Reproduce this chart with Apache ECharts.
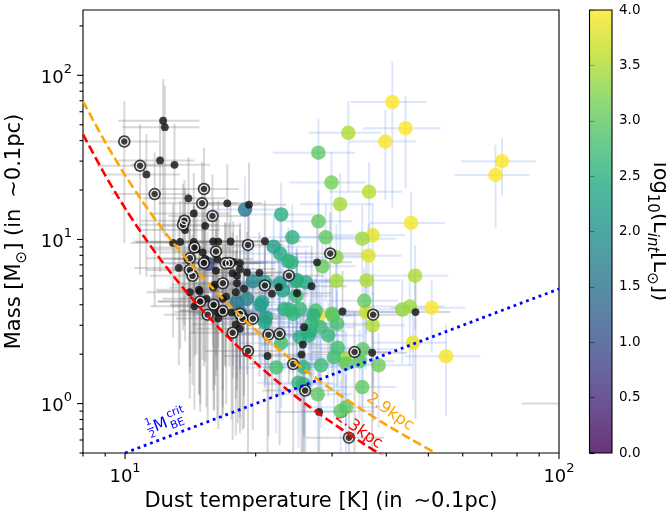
<!DOCTYPE html>
<html><head><meta charset="utf-8">
<script src="https://cdn.jsdelivr.net/npm/echarts@6/dist/echarts.min.js"></script>
<style>html,body{margin:0;padding:0;background:#fff}#c{width:666px;height:521px}</style>
</head><body><div id="c"></div>
<script>
const FONT = 'DejaVu Sans';

// ---- data ----
// colored cores: [Tdust, Mass, dT, dM, log10(Lint)]
const coloredCores = [
 [41.3,68.7,8.2,53,4.0],[44.3,47.6,9,27,4.0],[39.8,39.5,7,22,3.95],[73.9,30.0,14.5,11.5,4.0],[71.4,24.7,14,13,4.0],
 [45.6,12.6,9,7,3.95],[37.2,10.6,7,6,3.85],[36.4,7.96,7,4.5,3.8],[50.9,3.84,10,1.8,4.0],[54.9,1.94,11,1.1,3.95],
 [46.1,2.35,9,1.3,3.85],[28.0,3.44,5.5,2.0,3.9],[35.9,3.61,7,2.0,3.7],
 [32.7,44.6,6.2,25,3.5],[36.5,19.5,7,10,3.55],[31.3,16.4,6,9,3.45],[35.2,10.1,7,6,3.4],[30.7,7.8,6,4.5,3.3],
 [30.7,5.6,6,3,3.45],[36.0,5.63,7,3,3.5],[46.6,6.02,9,3.2,3.5],[43.5,3.74,8,2.0,3.35],[45.3,3.9,9,2.2,3.4],
 [37.2,3.0,7,1.7,3.5],[32.0,1.87,6,1.0,3.45],
 [27.9,33.8,6,21,3.0],[29.9,22.2,6,12,3.15],[27.9,12.9,5.5,7,3.0],[29.0,10.3,6,6,3.0],[28.5,6.86,5.5,4,3.05],
 [35.6,4.23,7,2.4,3.05],[30.1,3.44,6,2,3.0],[30.8,3.07,6,1.8,2.85],[35.3,2.14,7,1.2,3.0],[38.4,1.71,7.5,1.0,3.1],
 [34.7,1.81,7,1.0,2.95],[32.3,1.75,6.5,1.0,3.0],[35.2,1.26,7,0.7,3.0],[30.9,2.19,6,1.2,2.8],[30.3,1.92,6,1.1,2.8],
 [27.8,1.14,5.5,0.65,3.0],[32.3,0.95,6.5,0.55,3.0],[31.4,0.90,6,0.5,2.95],
 [22.9,14.2,4.5,8,2.5],[24.3,10.3,5,6,2.55],[22.0,9.03,4.5,5,2.2],[22.8,8.17,4.5,5,2.45],[23.8,7.36,4.8,4.5,2.5],
 [24.2,7.26,4.8,4.2,2.6],[24.8,5.57,5,3.2,2.55],[26.1,5.49,5,3.2,2.45],[22.7,5.41,4.5,3,2.3],[23.1,4.89,4.5,2.8,2.3],
 [24.8,4.53,5,2.6,2.7],[25.3,3.78,5,2.2,2.7],[27.5,3.69,5.5,2.1,2.8],[23.3,3.76,4.5,2.2,2.5],[24.4,3.52,5,2,2.6],
 [27.2,3.44,5.5,2,2.5],[28.2,2.92,5.5,1.7,2.7],[26.7,2.77,5.3,1.6,2.55],[29.4,2.6,6,1.5,2.65],[26.5,2.6,5.3,1.5,2.5],
 [22.9,2.34,4.5,1.4,2.8],[22.3,1.66,4.5,1.0,2.8],[25.8,1.67,5,1.0,2.6],[28.3,1.71,5.5,1.0,2.75],[25.1,1.34,5,0.8,2.6],
 [25.8,1.31,5,0.8,2.55],
 [18.9,15.2,3.8,9,1.55],[15.5,7.1,3,4,0.8],[19.7,5.57,4,3.2,1.8],[21.0,5.49,4.2,3.2,2.2],[18.1,4.15,3.6,2.4,1.6],
 [19.1,4.35,3.8,2.5,1.8],[20.5,3.99,4,2.3,2.0],[18.4,3.61,3.7,2.1,1.7],[21.1,3.36,4.2,2,2.2],[21.0,3.14,4.2,1.8,2.3],
 [24.9,5.67,5,3.3,2.5],[20.7,4.15,4.1,2.4,2.3],[25.3,2.54,5,1.5,2.5],[26.9,3.07,5.4,1.8,2.6],
 [23.9,3.73,4.8,2.2,2.6],[30.0,3.53,6,2,3.0]
];
// cores without luminosity: [Tdust, Mass, dT, dM]
const blackCores = [
 [12.24,52.9,2.6,42],[12.35,48.3,2.5,38],[12.04,30.3,2.4,24],[13.0,28.5,2.7,22],[11.2,24.9,2.2,19],
 [14.0,17.8,3,14],[17.2,16.6,3.5,12],[19.3,16.3,4.2,13],[14.4,14.4,3,11],[15.3,12.1,3.2,9],
 [13.75,11.4,2.8,9],[12.9,9.53,2.6,7],[13.4,9.66,2.8,7.5],[14.4,9.66,3,7],[15.96,9.72,5.5,7.5],
 [17.5,9.72,3.6,7],[21.0,9.75,4.5,7.5],[15.1,8.34,3.1,6.5],[16.3,7.61,3.4,6],[13.3,6.71,2.8,5],
 [18.4,7.18,3.8,5.5],[17.7,6.23,3.6,4.8],[16.1,5.3,3.3,4],[18.1,5.41,3.7,4.2],[20.4,6.26,4.2,4.8],
 [22.6,5.12,4.6,4],[26.9,5.19,5.5,4],[14.8,4.94,3,3.8],[15.4,4.35,3.2,3.4],[18.0,4.77,3.7,3.7],
 [18.8,5.01,3.9,3.9],[21.8,4.67,4.5,3.6],[24.9,4.7,5,3.6],[14.45,3.92,3,3],[14.9,4.19,3,3.2],
 [16.05,3.92,3.3,3],[17.1,4.49,3.5,3.5],[16.3,3.61,3.3,2.8],[16.75,3.69,3.4,2.9],[18.2,3.56,3.7,2.8],
 [18.8,3.41,3.8,2.7],[18.0,3.04,3.7,2.4],[18.4,2.86,3.8,2.2],[25.85,2.92,5.3,2.3],[25.7,2.29,5.2,1.8],
 [21.3,1.95,4.4,1.5],[25.5,1.99,5.2,1.55],[27.7,7.26,5.6,5.5],[31.7,3.64,6.4,2.8],[46.7,3.61,9.5,2.8],
 [37.1,2.04,7.5,1.6],[28.0,0.89,5.7,0.7],[16.8,4.35,3.4,3.4],[14.85,4.83,3,3.7],[17.0,7.2,3.5,5.5],
 [17.75,7.3,3.6,5.6],[14.6,8.7,3,6.7],[16.4,3.3,3.3,2.6],[108,1.0,26,0.6],
 [16.4,9.7,3.3,7.5],[15.3,7.6,3.1,5.8],[16.2,6.46,3.3,5],[18.4,6.6,3.8,5],[18.1,6.0,3.7,4.6],
 [19.1,6.3,3.9,4.8],[15.96,5.1,3.3,3.9],[14.1,4.77,2.9,3.7],[17.6,3.6,3.6,2.8]
];
// circled cores: [Tdust, Mass, dT, dM]
const ringedCores = [
 [9.96,39.5,2,30],[10.83,28.1,2.2,22],[11.7,18.9,2.4,15],[15.2,20.3,3.1,16],[15.05,16.6,3.1,13],
 [15.9,13.9,3.3,11],[13.7,13.0,2.8,10],[13.6,12.3,2.8,9.5],[14.45,8.94,3,7],[16.2,8.44,3.3,6.5],
 [19.2,9.26,4,7],[29.7,8.22,6,6.4],[14.1,7.67,2.9,6],[15.2,7.18,3.1,5.5],[14.1,6.52,2.9,5],
 [14.3,6.0,2.9,4.7],[16.8,5.41,3.4,4.2],[23.85,6.02,4.9,4.7],[21.0,5.24,4.3,4],[14.9,4.19,3,3.3],
 [16.0,4.0,3.3,3.1],[16.8,3.66,3.4,2.8],[15.5,3.48,3.2,2.7],[18.4,3.52,3.8,2.7],[18.65,3.29,3.8,2.6],
 [19.7,3.29,4,2.6],[37.3,3.48,7.6,2.7],[17.7,2.7,3.6,2.1],[21.4,2.63,4.4,2],[22.7,2.66,4.6,2.1],
 [19.2,2.09,3.9,1.6],[33.8,2.06,6.9,1.6],[24.4,1.74,5,1.35],[26.0,1.2,5.3,0.9],[32.8,0.62,6.7,0.45],
 [17.4,7.18,3.6,5.5],[17.05,7.16,3.5,5.5]
];
// sensitivity curves
const curveT    = [8, 9, 10, 11, 12, 13, 14, 15, 17, 20, 23, 26, 30, 35, 40, 46, 52];
const orangeM   = [69.5, 39.2, 24.67, 16.87, 12.25, 9.32, 7.36, 5.98, 4.22, 2.81, 2.06, 1.60, 1.215, 0.926, 0.743, 0.598, 0.499];
const redM      = [43.7, 24.6, 15.52, 10.61, 7.71, 5.87, 4.63, 3.76, 2.65, 1.77, 1.29, 1.00, 0.764, 0.582, 0.467, 0.376, 0.314];
const beT = [10, 100];
const beM = [0.5, 5.0];
// ticks
const xMajorTicks = [10, 100];
const xMinorTicks = [8, 9, 20, 30, 40, 50, 60, 70, 80, 90];
const yMajorTicks = [1, 10, 100];
const yMinorTicks = [0.5, 0.6, 0.7, 0.8, 0.9, 2, 3, 4, 5, 6, 7, 8, 9, 20, 30, 40, 50, 60, 70, 80, 90, 200];
const cbarMin = 0, cbarMax = 4, cbarStep = 0.5;
const viridis = ['#440154','#482475','#414487','#355f8d','#2a788e','#21918c','#22a884','#44bf70','#7ad151','#bddf26','#fde725'];

// ---- chart ----
const X_MIN = 8, X_MAX = 100, Y_MIN = 0.5, Y_MAX = 250;
function rgba(hex, a){const n=parseInt(hex.slice(1),16);return 'rgba('+(n>>16)+','+((n>>8)&255)+','+(n&255)+','+a+')';}
function supFmt(v){const e=Math.log10(v);const r=Math.round(e);if(Math.abs(e-r)>1e-6)return '';return '{b|10}{s|'+r+'}';}
const tickRich = {b:{fontFamily:FONT,fontSize:18,lineHeight:24,verticalAlign:'bottom',color:'#000'},
                  s:{fontFamily:FONT,fontSize:13,lineHeight:13,verticalAlign:'top',color:'#000'}};

function errRender(color){
  return function(params, api){
    const T=api.value(0), M=api.value(1), dT=api.value(2), dM=api.value(3);
    const a=api.coord([T-dT,M]), b=api.coord([T+dT,M]);
    const c=api.coord([T,Math.max(M-dM,0.2)]), d=api.coord([T,M+dM]);
    return {type:'group',children:[
      {type:'line',shape:{x1:a[0],y1:a[1],x2:b[0],y2:b[1]},style:{stroke:color,lineWidth:2}},
      {type:'line',shape:{x1:c[0],y1:c[1],x2:d[0],y2:d[1]},style:{stroke:color,lineWidth:2}}
    ]};
  };
}
const greyErr = blackCores.concat(ringedCores);

const annotations = [
  {at:[40.8,0.888], rot:-35, kind:'text', text:'2.9kpc', color:'#ffa500'},
  {at:[34.6,0.69], rot:-35, kind:'text', text:'2.3kpc', color:'#ff0000'},
  {at:[12.43,0.772], rot:21, kind:'be', color:'#0000ff'}
];

const chart = echarts.init(document.getElementById('c'), null, {renderer:'canvas'});
const option = {
  animation:false,
  backgroundColor:'#fff',
  textStyle:{fontFamily:FONT},
  grid:[
    {left:83,right:107,top:10,bottom:68,show:true,borderColor:'#000',borderWidth:1.1,backgroundColor:'rgba(0,0,0,0)',containLabel:false,outerBoundsMode:'none'},
    {left:589.5,right:54,top:10,bottom:68,containLabel:false,outerBoundsMode:'none'}
  ],
  xAxis:[
    {type:'log',logBase:10,min:X_MIN,max:X_MAX,gridIndex:0,
     axisLine:{show:false},axisTick:{show:false},splitLine:{show:false},minorTick:{show:false},
     axisLabel:{formatter:supFmt,rich:tickRich,margin:9,color:'#000',showMinLabel:true,showMaxLabel:true},
     name:'Dust temperature [K] (in \u2009\u223C0.1pc)',nameLocation:'middle',nameGap:31,
     nameTextStyle:{fontFamily:FONT,fontSize:21,color:'#000'}},
    {type:'value',min:0,max:1,gridIndex:1,show:false}
  ],
  yAxis:[
    {type:'log',logBase:10,min:Y_MIN,max:Y_MAX,gridIndex:0,
     axisLine:{show:false},axisTick:{show:false},splitLine:{show:false},minorTick:{show:false},
     axisLabel:{formatter:supFmt,rich:tickRich,margin:11,color:'#000'},
     name:'{a|Mass [M}{s|\u2299}{a|] (in \u2009\u223C0.1pc)}',nameLocation:'middle',nameGap:50,
     nameTextStyle:{color:'#000',rich:{a:{fontFamily:FONT,fontSize:21,lineHeight:26,verticalAlign:'top',color:'#000'},
       s:{fontFamily:FONT,fontSize:15,lineHeight:15,verticalAlign:'bottom',color:'#000'}}}},
    {type:'value',min:cbarMin,max:cbarMax,interval:cbarStep,gridIndex:1,position:'right',
     axisLine:{show:false},axisTick:{show:true,length:5,lineStyle:{color:'#000',width:1.1}},splitLine:{show:false},
     axisLabel:{formatter:v=>v.toFixed(1),margin:7,color:'#000',fontFamily:FONT,fontSize:13.5},
     name:'{a|log}{s|10}{a|(L}{i|int}{a|[L}{s|\u2299}{a|])}',nameLocation:'middle',nameRotate:-90,nameGap:31,
     nameTextStyle:{color:'#000',rich:{a:{fontFamily:FONT,fontSize:21,lineHeight:26,verticalAlign:'top',color:'#000'},
       s:{fontFamily:FONT,fontSize:15,lineHeight:15,verticalAlign:'bottom',color:'#000'},
       i:{fontFamily:FONT,fontStyle:'italic',fontSize:15,lineHeight:15,verticalAlign:'bottom',color:'#000'}}}}
  ],
  visualMap:[{type:'continuous',show:false,seriesIndex:7,dimension:2,min:cbarMin,max:cbarMax,inRange:{color:viridis}}],
  series:[
    // 0 grey error bars
    {type:'custom',xAxisIndex:0,yAxisIndex:0,clip:true,silent:true,data:greyErr,renderItem:errRender('rgba(110,110,110,0.27)'),z:1},
    // 1 blue error bars
    {type:'custom',xAxisIndex:0,yAxisIndex:0,clip:true,silent:true,data:coloredCores.map(r=>[r[0],r[1],r[2],r[3]]),renderItem:errRender('rgba(100,140,235,0.22)'),z:1},
    // 2 orange curve
    {type:'line',xAxisIndex:0,yAxisIndex:0,data:curveT.map((t,i)=>[t,orangeM[i]]),smooth:0.3,showSymbol:false,symbol:'none',clip:true,
     lineStyle:{color:'#ffa500',width:2.6,type:[9,4]},z:6,silent:true},
    // 3 red curve
    {type:'line',xAxisIndex:0,yAxisIndex:0,data:curveT.map((t,i)=>[t,redM[i]]),smooth:0.3,showSymbol:false,symbol:'none',clip:true,
     lineStyle:{color:'#ff0000',width:2.6,type:[9,4]},z:6,silent:true},
    // 4 BE line
    {type:'line',xAxisIndex:0,yAxisIndex:0,data:beT.map((t,i)=>[t,beM[i]]),showSymbol:false,symbol:'none',clip:true,
     lineStyle:{color:'#0000ff',width:2.8,type:[2.8,3.9]},z:6,silent:true},
    // 5 annotations
    {type:'custom',xAxisIndex:0,yAxisIndex:0,clip:false,silent:true,z:2,
     data:annotations.map(a=>a.at),
     renderItem:function(params, api){
       const a=annotations[params.dataIndex];const p=api.coord(a.at);
       let children;
       if(a.kind==='text'){
         children=[{type:'text',x:0,y:0,style:{text:a.text,fill:a.color,fontFamily:FONT,fontSize:16,align:'center',verticalAlign:'middle'}}];
       } else {
         const f={fill:a.color,fontFamily:FONT};
         children=[
           {type:'text',x:-17,y:-6,style:Object.assign({text:'1',fontSize:10,align:'center',verticalAlign:'middle'},f)},
           {type:'line',shape:{x1:-20.5,y1:0.5,x2:-13.5,y2:0.5},style:{stroke:a.color,lineWidth:1}},
           {type:'text',x:-17,y:7,style:Object.assign({text:'2',fontSize:10,align:'center',verticalAlign:'middle'},f)},
           {type:'text',x:-6,y:1,style:Object.assign({text:'M',fontSize:16,align:'center',verticalAlign:'middle'},f)},
           {type:'text',x:3,y:-6,style:Object.assign({text:'crit',fontSize:11,align:'left',verticalAlign:'middle'},f)},
           {type:'text',x:3,y:6,style:Object.assign({text:'BE',fontSize:11,align:'left',verticalAlign:'middle'},f)}
         ];
       }
       return {type:'group',x:p[0],y:p[1],rotation:a.rot*Math.PI/180,children:children};
     }},
    // 6 tick marks x
    {type:'custom',xAxisIndex:0,yAxisIndex:0,clip:false,silent:true,z:7,
     data:xMajorTicks.map(v=>[v,1,6]).concat(xMinorTicks.map(v=>[v,1,3.5])),
     renderItem:function(params, api){const p=api.coord([api.value(0),Y_MIN]);const L=api.value(2);
       return {type:'line',shape:{x1:p[0],y1:p[1],x2:p[0],y2:p[1]+L},style:{stroke:'#000',lineWidth:1.1}};}},
    // 7 colored cores
    {type:'scatter',xAxisIndex:0,yAxisIndex:0,data:coloredCores.map(r=>[r[0],r[1],r[4]]),symbolSize:14.5,
     itemStyle:{opacity:0.8},z:3,silent:true},
    // 8 black cores
    {type:'scatter',xAxisIndex:0,yAxisIndex:0,data:blackCores.map(r=>[r[0],r[1]]),symbolSize:7.8,
     itemStyle:{color:'#111',opacity:0.8},z:4,silent:true},
    // 9 ringed outer
    {type:'scatter',xAxisIndex:0,yAxisIndex:0,data:ringedCores.map(r=>[r[0],r[1]]),symbolSize:12.5,
     itemStyle:{color:'#1a1a1a',opacity:0.82},z:4,silent:true},
    // 10 ringed white ring
    {type:'scatter',xAxisIndex:0,yAxisIndex:0,data:ringedCores.map(r=>[r[0],r[1]]),symbolSize:7.8,
     itemStyle:{color:'rgba(0,0,0,0)',borderColor:'#fff',borderWidth:1.3,opacity:0.9},z:4,silent:true},
    // 11 y ticks
    {type:'custom',xAxisIndex:0,yAxisIndex:0,clip:false,silent:true,z:7,
     data:yMajorTicks.map(v=>[X_MIN,v,6]).concat(yMinorTicks.map(v=>[X_MIN,v,3.5])),
     renderItem:function(params, api){const p=api.coord([X_MIN,api.value(1)]);const L=api.value(2);
       return {type:'line',shape:{x1:p[0]-L,y1:p[1],x2:p[0],y2:p[1]},style:{stroke:'#000',lineWidth:1.1}};}},
    // 12 colorbar
    {type:'custom',xAxisIndex:1,yAxisIndex:1,clip:false,silent:true,data:[[0,0]],
     renderItem:function(params, api){const p0=api.coord([0,cbarMin]),p1=api.coord([1,cbarMax]);
       return {type:'rect',shape:{x:p0[0],y:p1[1],width:p1[0]-p0[0],height:p0[1]-p1[1]},
         style:{fill:new echarts.graphic.LinearGradient(0,1,0,0,viridis.map((c,i)=>({offset:i/(viridis.length-1),color:rgba(c,0.8)}))),
                stroke:'#000',lineWidth:1.1}};}}
  ]
};
chart.setOption(option);
</script></body></html>
